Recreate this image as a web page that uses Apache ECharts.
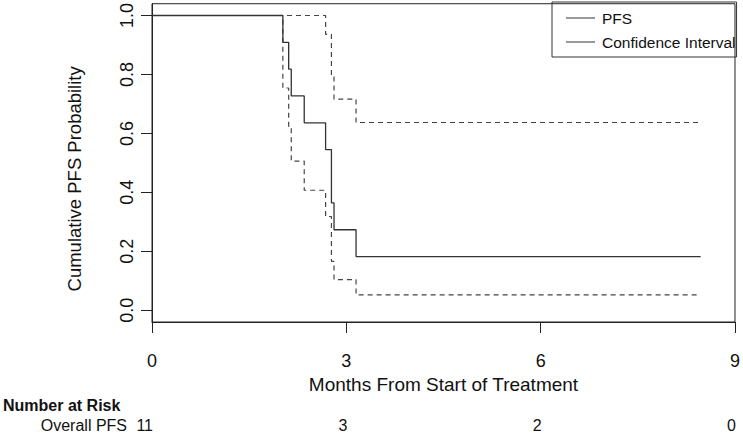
<!DOCTYPE html>
<html><head><meta charset="utf-8">
<script src="https://cdn.jsdelivr.net/npm/echarts@6/dist/echarts.min.js"></script>
<style>html,body{margin:0;padding:0;background:#fff}#c{width:743px;height:440px}</style>
</head><body><div id="c"></div>
<script>
// Kaplan-Meier estimate
const months  = [0, 2.02, 2.11, 2.15, 2.35, 2.68, 2.77, 2.81, 3.15, 8.47];
const pfs     = [1, 0.909, 0.818, 0.727, 0.636, 0.545, 0.364, 0.273, 0.182, 0.182];
const upperCI = [1, 1, 1, 1, 1, 0.936, 0.795, 0.716, 0.637, 0.637];
const lowerCI = [1, 0.754, 0.619, 0.506, 0.407, 0.318, 0.166, 0.104, 0.052, 0.052];
const yTicks = [0, 0.2, 0.4, 0.6, 0.8, 1.0];
const xTicks = [0, 3, 6, 9];
const riskTimes  = [0, 3, 6, 9];
const riskCounts = [11, 3, 2, 0];

const FONT = 'Liberation Sans, Arial, sans-serif';
const chart = echarts.init(document.getElementById('c'), null, {renderer: 'svg'});
const pts = arr => months.map((t, i) => [t, arr[i]]);

chart.setOption({
  animation: false,
  textStyle: {fontFamily: FONT},
  grid: {left: 152, right: 3, top: 2, bottom: 118, show: true, borderColor: '#222', borderWidth: 1, backgroundColor: 'transparent'},
  legend: {
    orient: 'vertical', left: 552, top: 2,
    padding: [7, 0, 6, 14], itemGap: 6,
    itemWidth: 29, itemHeight: 1, icon: 'rect',
    borderColor: '#333', borderWidth: 1,
    textStyle: {fontSize: 15.5, color: '#111', fontFamily: FONT, padding: [0, 1, 0, 2], lineHeight: 18},
    data: [
      {name: 'PFS', itemStyle: {color: '#333'}},
      {name: 'Confidence Interval', itemStyle: {color: '#333'}}
    ]
  },
  xAxis: {
    type: 'value', min: 0, max: 9, interval: 3,
    name: 'Months From Start of Treatment', nameLocation: 'middle', nameGap: 49,
    nameTextStyle: {fontSize: 19, color: '#111', fontFamily: FONT},
    axisLine: {show: true, onZero: false, lineStyle: {color: '#222', width: 1}},
    axisTick: {show: true, length: 11, lineStyle: {color: '#222'}, customValues: xTicks},
    axisLabel: {fontSize: 18, color: '#111', margin: 30, fontFamily: FONT, customValues: xTicks},
    splitLine: {show: false}
  },
  yAxis: {
    type: 'value', min: -0.04, max: 1.04,
    name: 'Cumulative PFS Probability', nameLocation: 'middle', nameGap: 68,
    nameTextStyle: {fontSize: 18.5, color: '#111', fontFamily: FONT, padding: [0, 32, 0, 0]},
    axisLine: {show: true, onZero: false, lineStyle: {color: '#222', width: 1}},
    axisTick: {show: true, length: 11, lineStyle: {color: '#222'}, customValues: yTicks},
    axisLabel: {fontSize: 18, color: '#111', margin: 16, rotate: 90, fontFamily: FONT,
      customValues: yTicks, formatter: v => v.toFixed(1)},
    splitLine: {show: false}
  },
  series: [
    {name: 'Confidence Interval', type: 'line', step: 'end', showSymbol: false, symbol: 'none',
      data: pts(upperCI), lineStyle: {color: '#444', width: 1.2, type: [5, 4]}, z: 2},
    {name: 'Confidence Interval', type: 'line', step: 'end', showSymbol: false, symbol: 'none',
      data: pts(lowerCI), lineStyle: {color: '#444', width: 1.2, type: [5, 4]}, z: 2},
    {name: 'PFS', type: 'line', step: 'end', showSymbol: false, symbol: 'none',
      data: pts(pfs), lineStyle: {color: '#333', width: 1.3}, z: 3}
  ]
});

// Number at risk table, positioned via the x axis scale
const g = [
  {type: 'text', style: {text: 'Number at Risk', x: 3, y: 405, font: 'bold 16px ' + FONT, fill: '#111',
    align: 'left', verticalAlign: 'middle', textAlign: 'left', textVerticalAlign: 'middle'}},
  {type: 'text', style: {text: 'Overall PFS', x: 127, y: 425, font: '16px ' + FONT, fill: '#111',
    align: 'right', verticalAlign: 'middle', textAlign: 'right', textVerticalAlign: 'middle'}}
];
riskTimes.forEach((t, i) => {
  const px = chart.convertToPixel({xAxisIndex: 0}, t);
  g.push({type: 'text', style: {text: String(riskCounts[i]), x: px + 1, y: 425, font: '16px ' + FONT, fill: '#111',
    align: 'right', verticalAlign: 'middle', textAlign: 'right', textVerticalAlign: 'middle'}});
});
chart.setOption({graphic: g});
</script></body></html>
